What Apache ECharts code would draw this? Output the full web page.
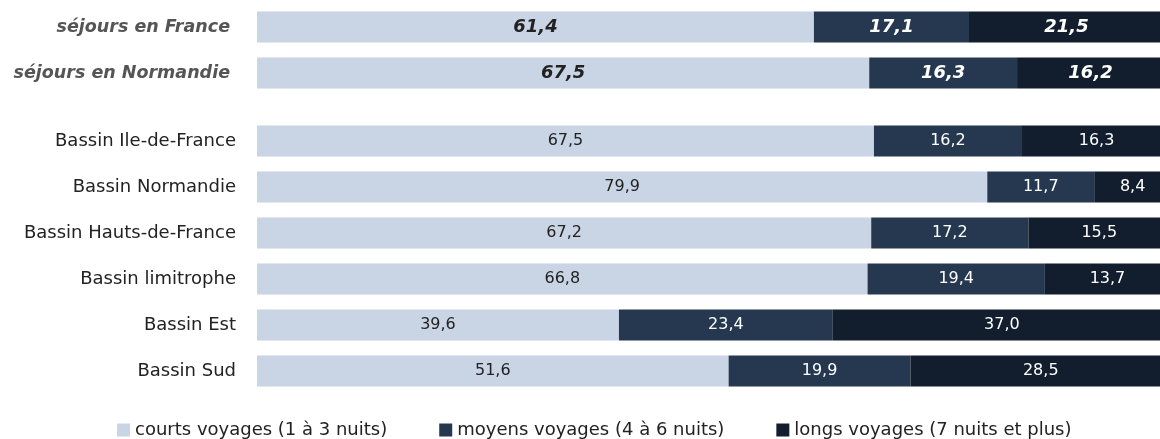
<!DOCTYPE html>
<html>
<head>
<meta charset="utf-8">
<script src="https://cdn.jsdelivr.net/npm/echarts@6/dist/echarts.min.js"></script>
<style>
  html, body { margin: 0; padding: 0; background: #fff; }
</style>
</head>
<body>
<div id="main" style="width: 1160px;height:439px;"></div>
<script>
// données
var seriesNames = ['courts voyages (1 à 3 nuits)', 'moyens voyages (4 à 6 nuits)', 'longs voyages (7 nuits et plus)'];
var colors = ['#c9d4e4', '#263850', '#121e2d'];

var catsTop = ['séjours en France', 'séjours en Normandie'];
var courtsTop = [61.4, 67.5];
var moyensTop = [17.1, 16.3];
var longsTop = [21.5, 16.2];

var catsBassin = ['Bassin Ile-de-France', 'Bassin Normandie', 'Bassin Hauts-de-France', 'Bassin limitrophe', 'Bassin Est', 'Bassin Sud'];
var courtsBassin = [67.5, 79.9, 67.2, 66.8, 39.6, 51.6];
var moyensBassin = [16.2, 11.7, 17.2, 19.4, 23.4, 19.9];
var longsBassin = [16.3, 8.4, 15.5, 13.7, 37.0, 28.5];

var fmt = function (p) { return p.value.toFixed(1).replace('.', ','); };

function makeSeries(name, data, idx, gridIdx, top) {
  return {
    name: name,
    type: 'bar',
    stack: 'g' + gridIdx,
    xAxisIndex: gridIdx,
    yAxisIndex: gridIdx,
    barWidth: 31,
    data: data,
    itemStyle: { color: colors[idx] },
    label: {
      show: true,
      position: 'inside',
      formatter: fmt,
      color: idx === 0 ? '#222' : '#fff',
      fontSize: top ? 18 : 16,
      fontStyle: top ? 'italic' : 'normal',
      fontWeight: top ? 'bold' : 'normal',
      fontFamily: 'DejaVu Sans'
    }
  };
}

var myChart = echarts.init(document.getElementById('main'));
var option = {
  animation: false,
  grid: [
    { left: 257, right: -4, top: 4, height: 92, outerBoundsMode: 'none', containLabel: false },
    { left: 257, right: -11, top: 118, height: 276, outerBoundsMode: 'none', containLabel: false }
  ],
  xAxis: [
    { gridIndex: 0, type: 'value', min: 0, max: 100, show: false },
    { gridIndex: 1, type: 'value', min: 0, max: 100, show: false }
  ],
  yAxis: [
    {
      gridIndex: 0, type: 'category', data: catsTop, inverse: true,
      axisLine: { show: false }, axisTick: { show: false },
      axisLabel: { margin: 27, fontSize: 17.5, color: '#555', fontStyle: 'italic', fontWeight: 'bold', fontFamily: 'DejaVu Sans' }
    },
    {
      gridIndex: 1, type: 'category', data: catsBassin, inverse: true,
      axisLine: { show: false }, axisTick: { show: false },
      axisLabel: { margin: 21, fontSize: 18, color: '#222', fontFamily: 'DejaVu Sans' }
    }
  ],
  legend: {
    data: seriesNames,
    left: 112,
    top: 416,
    itemWidth: 13,
    itemHeight: 13,
    itemGap: 52,
    icon: 'rect',
    textStyle: { fontSize: 18, color: '#222', fontFamily: 'DejaVu Sans' }
  },
  series: [
    makeSeries(seriesNames[0], courtsTop, 0, 0, true),
    makeSeries(seriesNames[1], moyensTop, 1, 0, true),
    makeSeries(seriesNames[2], longsTop, 2, 0, true),
    makeSeries(seriesNames[0], courtsBassin, 0, 1, false),
    makeSeries(seriesNames[1], moyensBassin, 1, 1, false),
    makeSeries(seriesNames[2], longsBassin, 2, 1, false)
  ]
};
myChart.setOption(option);
</script>
</body>
</html>
